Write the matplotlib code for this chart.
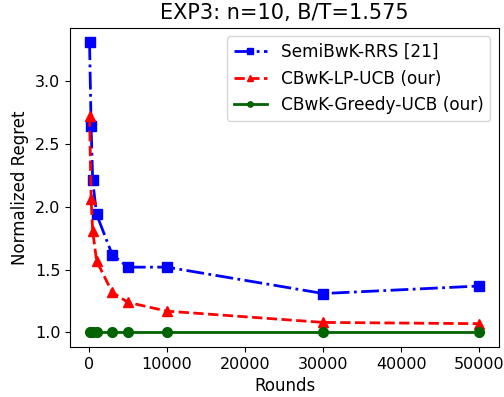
import matplotlib
matplotlib.use('Agg')
import matplotlib.pyplot as plt

rounds = [100, 300, 500, 1000, 3000, 5000, 10000, 30000, 50000]
semibwk_rrs = [3.31, 2.64, 2.21, 1.94, 1.62, 1.52, 1.52, 1.31, 1.37]
cbwk_lp_ucb = [2.72, 2.06, 1.81, 1.57, 1.32, 1.24, 1.17, 1.08, 1.07]
cbwk_greedy_ucb = [1.0, 1.0, 1.0, 1.0, 1.0, 1.0, 1.0, 1.0, 1.0]

plt.rcParams['font.size'] = 12

fig, ax = plt.subplots(figsize=(5.04, 3.97), dpi=100)
ax.plot(rounds, semibwk_rrs, '-.s', color='blue', lw=2, ms=7, label='SemiBwK-RRS [21]')
ax.plot(rounds, cbwk_lp_ucb, '--^', color='red', lw=2, ms=7, label='CBwK-LP-UCB (our)')
ax.plot(rounds, cbwk_greedy_ucb, '-o', color='darkgreen', lw=2, ms=7, label='CBwK-Greedy-UCB (our)')

ax.set_xlabel('Rounds', fontsize=12)
ax.set_ylabel('Normalized Regret', fontsize=12)
ax.set_title('EXP3: n=10, B/T=1.575', fontsize=15)
ax.legend(loc='upper right', fontsize=12.2, markerscale=0.55)
ax.set_xticks([0, 10000, 20000, 30000, 40000, 50000])
ax.set_yticks([1.0, 1.5, 2.0, 2.5, 3.0])
ax.tick_params(labelsize=11.5)

fig.subplots_adjust(left=0.139, right=0.99, top=0.93, bottom=0.126)
fig.savefig('out.png')
